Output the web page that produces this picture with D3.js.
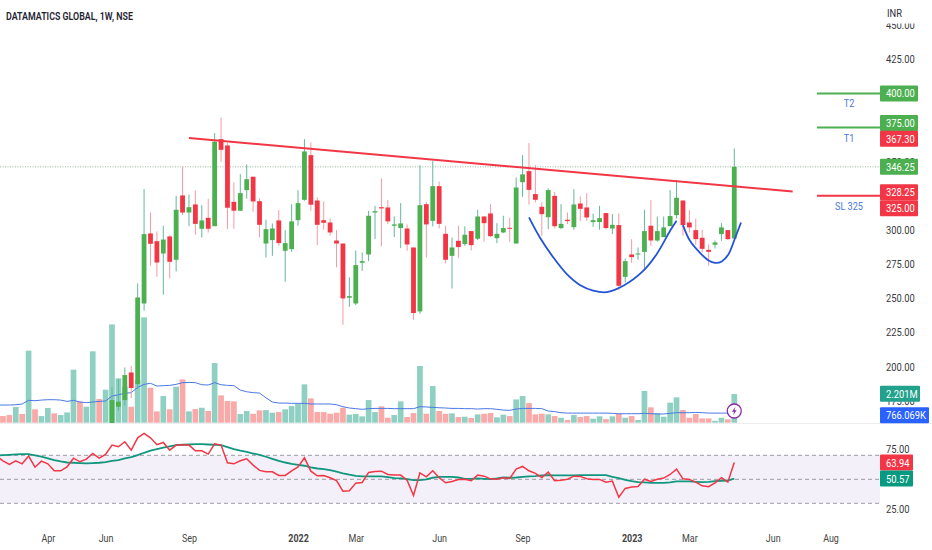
<!DOCTYPE html>
<html>
<head>
<meta charset="utf-8">
<script src="https://cdn.jsdelivr.net/npm/d3@7"></script>
<style>
  html, body { margin: 0; padding: 0; background: #fff; }
  svg { display: block; }
  text { font-family: Roboto, sans-serif; }
</style>
</head>
<body>
<div id="chart"></div>
<script>
// Weekly candles, the first candle sits on week 18 (older ones are below the pane)
const firstCandle = 18;
const opens = [150,170.6,175.5,195.7,187.2,246.2,297.5,291.8,282.8,295.3,278.2,325.3,312.8,318.7,300.9,308.9,302.8,366.5,361.9,320.6,314.1,329.2,339,321.1,290.1,292.6,307,284.8,286,307.2,322.1,354.8,321.6,307.2,305.5,292.3,290.1,250.4,246.2,276,282.1,312.8,316.7,316.5,303.1,301.4,301.1,287.2,240.4,318.9,306.7,332.1,297.2,281.1,292.1,289.7,299.2,293.6,309.9,312.1,294,298.2,301.6,290.1,335,343.1,326.3,317,309.4,325,301.4,307.5,302.1,319.4,316.5,305.8,305.8,312.4,301.1,303.6,265.7,282.1,282.1,284,303.1,292.3,294.8,302.8,310.9,321.6,305.5,299.9,294.3,285.5,289.2,297,299.9,293.8];
const highs = [184.7,190.8,199.4,200.6,260.9,329.9,312.8,299,303.1,296.2,325,346.3,326,329,318.2,322.8,370.9,382.4,363.6,335,340.9,348,339,323.3,307.5,304.8,314.5,299.9,318.9,329.2,366.5,364.1,323.8,320.9,308.4,299.9,290.1,265.3,285,283.6,314.1,317.7,337.7,321.9,309.9,319.7,304.1,287.2,347.5,320.6,350.7,335.5,303.1,294.5,303.1,302.6,299.2,314.8,309.9,318.9,305,310.4,308.9,338.5,354.8,363.6,347.5,320.2,330.4,328,318.9,312.8,329.9,324.6,327,312.1,317.7,312.4,311.6,312.1,279.2,293.3,287.2,314.8,321.9,309.9,309.9,329.2,336.5,321.6,314.5,308.4,300.2,289.4,292.3,305,299.9,359.7];
const lows = [145,167.7,171.3,176.9,183.5,240.9,273.8,265.7,252.6,264.5,269.7,310.9,302.8,296.5,294.5,298.2,302.8,349.9,300.6,300.9,314.1,323.1,313.3,294.5,279.9,281.1,288.4,262.1,284,303.1,321.4,314.1,288.9,300.2,295.8,272.6,230.6,243.8,245,270.1,277.2,293.3,288,304.3,294.8,286.7,284.8,234.3,238.7,279.9,302.6,301.1,275.5,257.2,279.4,288.4,285,292.6,291.4,294.8,290.4,297.7,291.4,290.1,324.3,318.5,320.2,295.8,300.6,301.1,300.6,304.3,300.2,306.7,306.7,302.3,300.2,300.6,297,256.2,261.6,275.8,278.2,270.1,288.4,291.4,294.8,302.8,308.4,295.8,298.2,289.2,283.6,273.8,286.5,292.1,292.8,293.3];
const closes = [175.5,174.3,193.8,184.3,250.6,297,289.9,276.2,293,276.7,314.8,312.8,316.7,304.5,307,300.9,364.6,358.7,316.3,314.1,327,337.2,320.9,303.8,300.6,301.1,290.4,290.4,306.3,319.7,357.5,318.5,303.8,305.3,298.2,290.1,249.9,251.6,274.3,277.2,310.4,313.8,315.8,306.3,304.1,304.8,289.4,239.2,318.2,304.1,332.1,304.5,278.2,287.2,287.5,296.5,288.9,309.9,305,295.5,297.2,301.4,300.9,331.1,340.7,329.4,322.1,311.6,329.2,302.8,304.5,306.5,318.7,315.5,309.2,307.2,308.7,301.4,303.8,259.2,277.2,280.1,282.8,299.2,292.3,299.2,301.9,310.2,323.6,303.6,301.9,293.3,286.2,284,290.9,301.9,293.3,346.25];

// Volume in millions, one per week from week 0
const earlyUp = [0,0,0,1,0,1,0,1,1,0,1,1,1,0,1,1,0,1];
const volumes = [0.5,0.51,0.59,1.21,0.67,5.54,1.03,0.51,1.13,0.72,0.59,0.79,4.08,1.62,1.23,5.49,1.82,2.54,7.56,3.41,2.77,1.23,3.28,8.10,2.69,0.87,2.05,1.03,2.77,3.33,0.87,1.05,1.15,0.90,4.59,2.10,1.67,1.64,0.67,0.90,0.69,0.95,0.97,0.77,0.82,1.03,1.28,1.44,2.95,1.87,0.82,0.82,0.69,0.77,1.15,0.62,0.67,0.49,1.74,0.82,1.26,0.38,0.59,1.64,0.44,0.74,4.36,0.69,2.82,0.90,0.69,0.72,0.44,0.46,0.36,0.64,0.69,0.74,0.41,0.62,0.51,1.79,2.05,1.51,0.64,0.69,0.64,0.51,0.38,0.21,0.59,0.44,0.51,0.31,0.49,0.28,0.49,0.69,0.38,0.51,0.21,2.44,1.18,0.74,0.46,1.54,1.95,0.97,0.38,0.67,0.33,0.33,0.15,0.38,0.26,2.201];
const volumeMA = [1.36,1.36,1.36,1.38,1.44,1.72,1.69,1.74,1.77,1.77,1.74,1.64,1.72,1.59,1.54,1.59,1.64,1.67,2.05,2.15,2.26,2.31,2.72,2.95,3.03,2.82,2.85,2.87,2.95,3.08,3.10,3.08,2.92,2.90,3.08,2.92,2.87,2.85,2.51,2.38,2.31,2.28,1.92,1.59,1.51,1.51,1.49,1.49,1.49,1.44,1.44,1.44,1.44,1.38,1.23,1.13,1.08,1.03,1.08,1.10,1.10,1.10,1.08,1.08,1.08,1.08,1.23,1.21,1.18,1.15,1.13,1.10,1.10,1.08,1.08,1.05,1.08,1.08,1.03,0.97,0.95,1.05,1.10,1.10,1.10,1.08,0.90,0.85,0.77,0.74,0.74,0.74,0.74,0.74,0.74,0.74,0.72,0.69,0.69,0.69,0.69,0.72,0.69,0.67,0.67,0.72,0.77,0.77,0.77,0.79,0.77,0.74,0.74,0.74,0.74,0.766];

// RSI and its moving average, one per week from week 0
const rsi = [69.3,65.4,62.4,65.4,62.9,69.3,60.1,65.1,62.9,57.1,57.1,60.4,67.6,64.6,66.8,71.5,67.6,70.7,78.5,77.1,81.3,74.3,84.6,88.2,84.6,78.8,80.7,74.3,78.5,78.5,78.5,73.8,73.8,71,79.6,78.5,63.8,62.9,65.4,67.1,61.8,57.4,56.3,56.3,53.2,53.2,57.1,60.4,67.9,56.8,52.9,53.2,51.3,49,40.1,40.4,46.8,47.4,55.7,56.5,56.8,54,53.5,53.5,49.3,36.5,55.4,52.1,57.1,51.3,47.1,48.2,49.9,50.1,48.8,53.5,52.6,50.4,50.1,51.3,50.7,58.5,60.7,57.1,54.9,51.5,56,48.8,49.3,50.1,52.6,52.4,50.4,49.9,49.9,47.6,48.5,35.1,42.4,43.5,44,50.1,48.2,50.1,51,54,58.5,50.4,49.9,47.6,44.6,43.8,47.1,51.3,47.6,63.94];
const rsiMA = [69.9,70.1,70.4,70.7,71,71,69.9,68.8,67.4,66,64.9,64,63.8,63.5,63.2,63.5,63.8,64.3,65.4,66,67.4,68.5,70.1,72.1,73.8,75.1,76.3,77.4,78.5,78.8,79,79.3,79.3,79,78.8,78.5,76.8,75.1,73.8,72.9,71.5,70.4,68.8,67.1,65.4,64,62.9,62.1,61.3,59.9,59,58.5,57.6,56.3,54.9,53.8,52.9,52.4,52.4,52.4,52.4,51.8,51,50.7,50.1,49.3,49.3,49.9,51.3,52.1,52.1,52.1,51.5,50.4,50.4,50.7,50.4,50.1,50.7,51.5,51.3,51.5,52.1,52.4,52.6,53.2,53.5,53.2,53.2,53.2,53.2,53.5,53.5,53.5,53.5,53.5,52.1,51,49.6,48.5,47.6,47.4,47.1,47.1,47.1,47.4,48.2,48.2,48.2,47.9,47.6,47.9,48.5,48.8,49,50.57];

// Drawings on the price pane, as [week, price]
const trendLine = [[30, 367.3], [124.1, 328.25]];
const cupOne = [[83,309.2],[84.7,294.5],[86.8,279.9],[88.9,267.7],[91,259.6],[93,255.7],[95.1,254.5],[97.7,259.2],[100.8,270.1],[102.9,282.3],[105,299.4],[106,306.7]];
const cupTwo = [[107,303.6],[108.1,292.1],[109.7,283.1],[111,277.7],[112,276],[113.05,277],[114.1,282.3],[115.1,293.8],[116.05,305.5]];
const targetPrices = [400, 375, 325];
const targetNames = ["T2", "T1", "SL 325"];

const priceTicks = [450, 425, 350, 300, 275, 250, 225, 200, 175];
const rsiTicks = [75, 25];
const rsiLevels = [70, 50, 30];
const weekTicks = [8, 17, 30, 47, 56, 69, 82, 99, 108, 121, 130];
const weekLabels = ["Apr", "Jun", "Sep", "2022", "Mar", "Jun", "Sep", "2023", "Mar", "Jun", "Aug"];

const GREEN = "#4caf50", RED = "#f23645";
const width = 932, height = 550, paneRight = 880;

const svg = d3.select("#chart").append("svg").attr("width", width).attr("height", height);

const x = d3.scaleLinear().domain([0, 130]).range([-3.485, 830.5]);
const y = d3.scaleLinear().domain([450, 200]).range([25.1, 366.6]);
const yVol = d3.scaleLinear().domain([0, 1]).range([422.7, 409.7]);
const yRsi = d3.scaleLinear().domain([75, 25]).range([449.3, 509.3]);

// the source is squeezed horizontally, so the text needs the same
function squeeze(sel, factor) {
    sel.each(function () {
        d3.select(this)
            .attr("lengthAdjust", "spacingAndGlyphs")
            .attr("textLength", this.getComputedTextLength() * factor);
    });
}

svg.append("defs").append("clipPath").attr("id", "pane")
    .append("rect").attr("x", 0).attr("y", 0).attr("width", paneRight).attr("height", 423);

const pane = svg.append("g").attr("clip-path", "url(#pane)");

// last price line
pane.append("line")
    .attr("x1", 0).attr("x2", paneRight)
    .attr("y1", y(346.25)).attr("y2", y(346.25))
    .attr("stroke", "#7fa98a").attr("stroke-width", 0.8).attr("stroke-dasharray", "1 1.5");

const isUp = (d, i) => i < firstCandle ? earlyUp[i] === 1 : closes[i - firstCandle] >= opens[i - firstCandle];

pane.selectAll("rect.vol")
    .data(volumes)
    .enter().append("rect")
    .attr("class", "vol")
    .attr("x", (d, i) => x(i) - 2.85)
    .attr("width", 5.7)
    .attr("y", d => yVol(d))
    .attr("height", d => yVol(0) - yVol(d))
    .attr("fill", (d, i) => isUp(d, i) ? "#8fd0c3" : "#f8a9a8");

pane.append("path")
    .datum(volumeMA)
    .attr("fill", "none")
    .attr("stroke", "#4a78e6")
    .attr("stroke-width", 1)
    .attr("d", d3.line().x((d, i) => x(i)).y(d => yVol(d)));

const candleColor = i => closes[i] >= opens[i] ? GREEN : RED;

pane.selectAll("line.wick")
    .data(opens)
    .enter().append("line")
    .attr("class", "wick")
    .attr("x1", (d, i) => x(i + firstCandle))
    .attr("x2", (d, i) => x(i + firstCandle))
    .attr("y1", (d, i) => y(highs[i]))
    .attr("y2", (d, i) => y(lows[i]))
    .attr("stroke", (d, i) => closes[i] >= opens[i] ? "#62b79d" : "#f59aa2")
    .attr("stroke-width", 1);

pane.selectAll("rect.body")
    .data(opens)
    .enter().append("rect")
    .attr("class", "body")
    .attr("x", (d, i) => x(i + firstCandle) - 2.4)
    .attr("width", 4.8)
    .attr("y", (d, i) => y(Math.max(opens[i], closes[i])))
    .attr("height", (d, i) => Math.max(1, Math.abs(y(opens[i]) - y(closes[i]))))
    .attr("fill", (d, i) => candleColor(i));

const drawLine = d3.line().x(d => x(d[0])).y(d => y(d[1]));
const drawCurve = d3.line().x(d => x(d[0])).y(d => y(d[1])).curve(d3.curveCatmullRom);

pane.append("path").datum(trendLine)
    .attr("d", drawLine).attr("fill", "none")
    .attr("stroke", RED).attr("stroke-width", 2);

[cupOne, cupTwo].forEach(cup => {
    pane.append("path").datum(cup)
        .attr("d", drawCurve).attr("fill", "none")
        .attr("stroke", "#2354d6").attr("stroke-width", 1.8);
});

// target lines and their notes
pane.selectAll("line.target")
    .data(targetPrices)
    .enter().append("line")
    .attr("class", "target")
    .attr("x1", 817).attr("x2", paneRight)
    .attr("y1", d => y(d)).attr("y2", d => y(d))
    .attr("stroke", d => d === 325 ? RED : GREEN)
    .attr("stroke-width", 2);

svg.selectAll("text.note")
    .data(targetPrices)
    .enter().append("text")
    .attr("class", "note")
    .attr("x", 849)
    .attr("y", d => y(d) + 14)
    .attr("text-anchor", "middle")
    .attr("font-size", 10.5)
    .attr("fill", "#4a78e0")
    .text((d, i) => targetNames[i])
    .call(squeeze, 0.87);

// lightning badge on the last volume bar
const badge = svg.append("g").attr("transform", `translate(${x(115)},411)`);
badge.append("circle").attr("r", 7)
    .attr("fill", "#fff").attr("stroke", "#8e2aa8").attr("stroke-width", 1.3);
badge.append("path").attr("d", "M1.2,-4.2 L-2.4,0.8 L-0.2,0.8 L-1.2,4.2 L2.4,-0.8 L0.2,-0.8 Z")
    .attr("fill", "#8e2aa8");

// RSI pane
svg.append("line")
    .attr("x1", 0).attr("x2", width)
    .attr("y1", 423.5).attr("y2", 423.5)
    .attr("stroke", "#eceef2").attr("stroke-width", 1);

svg.append("rect")
    .attr("x", 0).attr("width", paneRight)
    .attr("y", yRsi(70)).attr("height", yRsi(30) - yRsi(70))
    .attr("fill", "#f3f0f9");

svg.selectAll("line.level")
    .data(rsiLevels)
    .enter().append("line")
    .attr("class", "level")
    .attr("x1", 0).attr("x2", paneRight)
    .attr("y1", d => yRsi(d)).attr("y2", d => yRsi(d))
    .attr("stroke", "#9b9ba3").attr("stroke-width", 1).attr("stroke-dasharray", "4 3");

const rsiLine = d3.line().x((d, i) => x(i)).y(d => yRsi(d));

svg.append("path").datum(rsiMA)
    .attr("d", rsiLine).attr("fill", "none")
    .attr("stroke", "#11967f").attr("stroke-width", 1.8);

svg.append("path").datum(rsi)
    .attr("d", rsiLine).attr("fill", "none")
    .attr("stroke", RED).attr("stroke-width", 1.5);

// axes
const priceAxis = svg.append("g")
    .attr("transform", "translate(880,0)")
    .call(d3.axisRight(y).tickValues(priceTicks).tickSize(0).tickPadding(6).tickFormat(d3.format(".2f")));
priceAxis.select(".domain").remove();
priceAxis.selectAll("text")
    .attr("font-family", "Roboto, sans-serif").attr("font-size", 11).attr("fill", "#3a3a3e")
    .call(squeeze, 0.85);

const rsiAxis = svg.append("g")
    .attr("transform", "translate(880,0)")
    .call(d3.axisRight(yRsi).tickValues(rsiTicks).tickSize(0).tickPadding(6).tickFormat(d3.format(".2f")));
rsiAxis.select(".domain").remove();
rsiAxis.selectAll("text")
    .attr("font-family", "Roboto, sans-serif").attr("font-size", 11).attr("fill", "#3a3a3e")
    .call(squeeze, 0.85);

const timeAxis = svg.append("g")
    .attr("transform", "translate(0,529.5)")
    .call(d3.axisBottom(x).tickValues(weekTicks).tickSize(0).tickPadding(5).tickFormat((d, i) => weekLabels[i]));
timeAxis.select(".domain").remove();
timeAxis.selectAll("text")
    .attr("font-family", "Roboto, sans-serif").attr("font-size", 10.5).attr("fill", "#444")
    .attr("font-weight", (d, i) => weekLabels[i].length === 4 ? 700 : 400)
    .call(squeeze, 0.85);

// header strip hides the top half of the 450 label
svg.append("rect").attr("x", 880).attr("y", 0).attr("width", 52).attr("height", 23.5).attr("fill", "#fff");

svg.append("text")
    .attr("x", 887).attr("y", 17)
    .attr("font-size", 11).attr("fill", "#2a2e39")
    .text("INR").call(squeeze, 0.85);

svg.append("text")
    .attr("x", 6).attr("y", 20)
    .attr("font-family", "'Open Sans', sans-serif").attr("font-size", 11.5).attr("font-weight", 600)
    .attr("fill", "#1e2230")
    .text("DATAMATICS GLOBAL, 1W, NSE")
    .each(function () { d3.select(this).attr("lengthAdjust", "spacingAndGlyphs").attr("textLength", 127); });

// price labels on the axis, some pushed aside so they do not overlap
const tags = [
    { value: 400, scale: y, nudge: 0, color: GREEN, w: 38, text: "400.00" },
    { value: 375, scale: y, nudge: -4.5, color: GREEN, w: 38, text: "375.00" },
    { value: 367.3, scale: y, nudge: 0.8, color: RED, w: 38, text: "367.30" },
    { value: 346.25, scale: y, nudge: 0, color: GREEN, w: 38, text: "346.25" },
    { value: 328.25, scale: y, nudge: 0.8, color: RED, w: 38, text: "328.25" },
    { value: 325, scale: y, nudge: 12.3, color: RED, w: 38, text: "325.00" },
    { value: 2.201, scale: yVol, nudge: -0.3, color: "#22a18c", w: 40, text: "2.201M" },
    { value: 0.766, scale: yVol, nudge: 2.6, color: "#2962ff", w: 49, text: "766.069K" },
    { value: 63.94, scale: yRsi, nudge: 0, color: RED, w: 33, text: "63.94" },
    { value: 50.57, scale: yRsi, nudge: 0, color: "#089981", w: 33, text: "50.57" }
];

const tagGroups = svg.selectAll("g.tag")
    .data(tags)
    .enter().append("g")
    .attr("class", "tag")
    .attr("transform", d => `translate(880,${d.scale(d.value) + d.nudge})`);

tagGroups.append("rect")
    .attr("y", -8).attr("height", 16)
    .attr("width", d => d.w).attr("rx", 1)
    .attr("fill", d => d.color);

tagGroups.append("text")
    .attr("x", 6).attr("y", 4)
    .attr("font-size", 11).attr("fill", "#fff")
    .text(d => d.text)
    .call(squeeze, 0.85);
</script>
</body>
</html>
